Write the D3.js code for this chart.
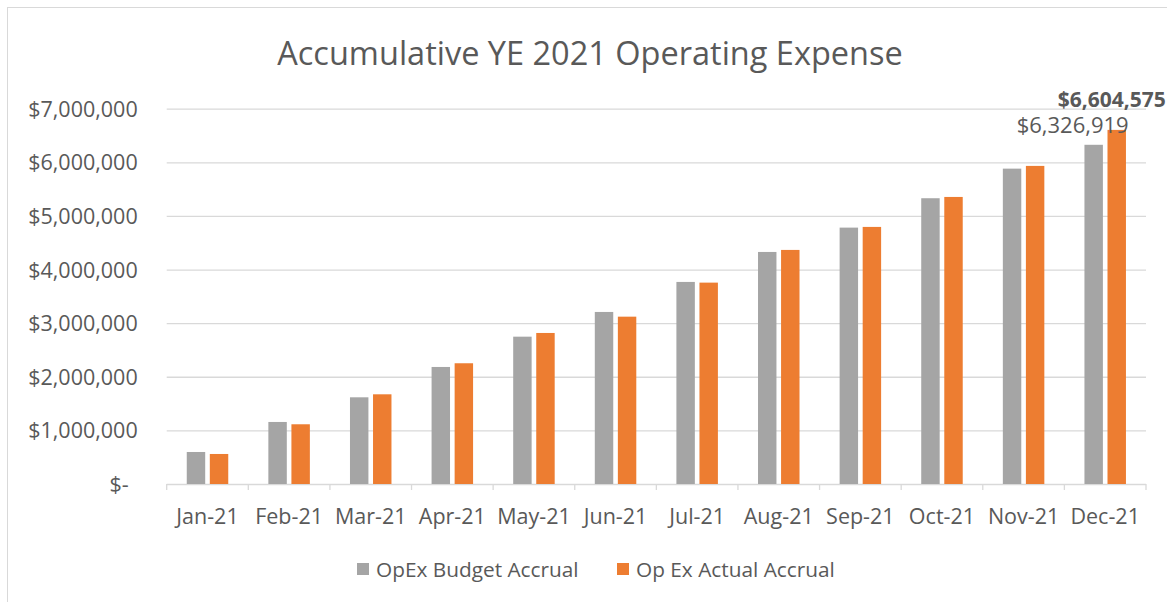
<!DOCTYPE html>
<html>
<head>
<meta charset="utf-8">
<script src="https://cdn.jsdelivr.net/npm/d3@7"></script>
<style>
  body { margin: 0; background: #fff; }
  text { font-family: "Open Sans", sans-serif; fill: #595959; }
</style>
</head>
<body>
<div id="chart"></div>
<script>
// data
var months = ["Jan-21", "Feb-21", "Mar-21", "Apr-21", "May-21", "Jun-21",
              "Jul-21", "Aug-21", "Sep-21", "Oct-21", "Nov-21", "Dec-21"];
var budget = [597000, 1157000, 1617000, 2183000, 2748000, 3209000,
              3769000, 4328000, 4782000, 5330000, 5882000, 6326919];
var actual = [560000, 1114000, 1673000, 2252000, 2817000, 3121000,
              3756000, 4366000, 4795000, 5354000, 5933000, 6604575];
var seriesNames = ["OpEx Budget Accrual", "Op Ex Actual Accrual"];
var colors = ["#a5a5a5", "#ed7d31"];
var yTicks = [0, 1000000, 2000000, 3000000, 4000000, 5000000, 6000000, 7000000];

var svgWidth = 1167;
var svgHeight = 602;

var margin = { top: 108.7, right: 21, bottom: 118, left: 166.7 };
var width = svgWidth - margin.left - margin.right;
var height = svgHeight - margin.top - margin.bottom;

var svg = d3.select("#chart")
  .append("svg")
  .attr("width", svgWidth)
  .attr("height", svgHeight);

// chart area border
svg.append("rect")
  .attr("x", 7.5).attr("y", 7.5)
  .attr("width", svgWidth + 20).attr("height", svgHeight + 20)
  .attr("fill", "none")
  .attr("stroke", "#d9d9d9");

svg.append("text")
  .attr("x", 590).attr("y", 65)
  .attr("text-anchor", "middle")
  .style("font-size", "32.5px")
  .text("Accumulative YE 2021 Operating Expense");

var chartGroup = svg.append("g")
  .attr("transform", `translate(${margin.left}, ${margin.top})`);

var x0 = d3.scaleBand().domain(months).range([0, width]).padding(0);
var x1 = d3.scaleBand().domain([0, 1]).range([0, x0.bandwidth()])
  .paddingInner(0.2).paddingOuter(0.87);
var y = d3.scaleLinear().domain([0, 7000000]).range([height, 0]);

// gridlines + y labels
var leftAxis = d3.axisLeft(y)
  .tickValues(yTicks)
  .tickSize(-width)
  .tickPadding(29)
  .tickFormat(d => d === 0 ? "$-" : "$" + d3.format(",")(d));

var yAxis = chartGroup.append("g").call(leftAxis);
yAxis.select(".domain").remove();
yAxis.selectAll("line").attr("stroke", "#d9d9d9").attr("stroke-width", 1.3);
yAxis.selectAll("text")
  .style("font-size", "21.5px")
  .attr("fill", "#595959")
  .attr("dy", "0.35em")
  .filter(d => d === 0).attr("dx", -9);

// x axis ticks at category boundaries
var bounds = months.map(m => x0(m)).concat([width]);
chartGroup.selectAll(".xtick")
  .data(bounds)
  .enter()
  .append("line")
  .attr("x1", d => d).attr("x2", d => d)
  .attr("y1", height).attr("y2", height + 6)
  .attr("stroke", "#d9d9d9").attr("stroke-width", 1.3);

chartGroup.selectAll(".xlabel")
  .data(months)
  .enter()
  .append("text")
  .attr("x", d => x0(d) + x0.bandwidth() / 2)
  .attr("y", height + 40)
  .attr("text-anchor", "middle")
  .style("font-size", "21.5px")
  .text(d => d);

// bars
var seriesData = [budget, actual];
seriesData.forEach(function(vals, si) {
  chartGroup.selectAll(".bar" + si)
    .data(vals)
    .enter()
    .append("rect")
    .attr("x", (d, i) => x0(months[i]) + x1(si))
    .attr("y", d => y(d))
    .attr("width", x1.bandwidth())
    .attr("height", d => height - y(d))
    .attr("fill", colors[si]);
});

// data labels for the last month
var last = months.length - 1;
chartGroup.append("text")
  .attr("x", x0(months[last]) + x1(0) + x1.bandwidth() / 2 - 21)
  .attr("y", y(budget[last]) - 12)
  .attr("text-anchor", "middle")
  .style("font-size", "22px")
  .text("$" + d3.format(",")(budget[last]));

chartGroup.append("text")
  .attr("x", x0(months[last]) + x1(1) + x1.bandwidth() / 2 - 5)
  .attr("y", y(actual[last]) - 23)
  .attr("text-anchor", "middle")
  .style("font-size", "21px")
  .style("font-weight", "bold")
  .text("$" + d3.format(",")(actual[last]));

// legend
var legend = svg.append("g").attr("transform", "translate(357, 563)");
var legendX = [0, 260];
seriesNames.forEach(function(name, i) {
  var g = legend.append("g").attr("transform", `translate(${legendX[i]}, 0)`);
  g.append("rect").attr("width", 12).attr("height", 12).attr("fill", colors[i]);
  g.append("text").attr("x", 19).attr("y", 13.5)
    .style("font-size", "20.8px")
    .text(name);
});
</script>
</body>
</html>
